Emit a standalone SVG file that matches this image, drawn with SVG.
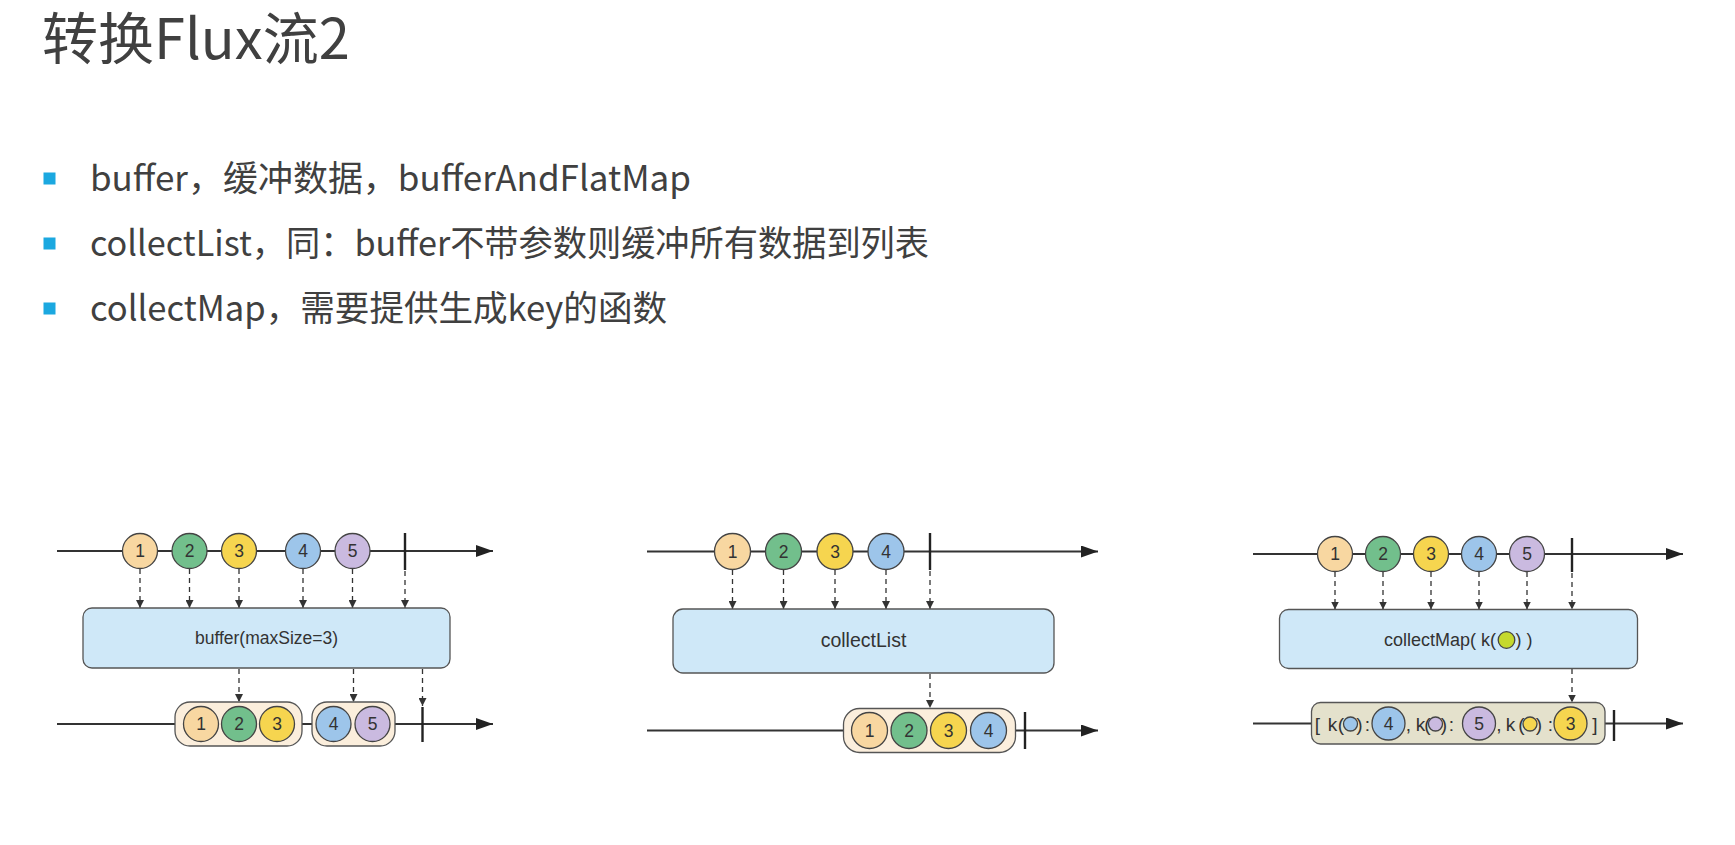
<svg xmlns="http://www.w3.org/2000/svg" width="1735" height="845" viewBox="0 0 1735 845">
<style>
.bg{fill:#ffffff}
.title{font-family:"Noto Sans CJK SC","Noto Sans",sans-serif;font-size:56px;fill:#404040}
.bul{font-family:"Noto Sans CJK SC","Noto Sans",sans-serif;font-size:35px;fill:#404040}
.sq{fill:#1ba8e0}
.tl{stroke:#333;stroke-width:1.8;fill:none}
.term{stroke:#222;stroke-width:2.4}
.dash{stroke:#333;stroke-width:1.3;stroke-dasharray:5 4;fill:none}
.op{fill:#cfe8f8;stroke:#555;stroke-width:1.3}
.grp{fill:#fbeedc;stroke:#555;stroke-width:1.3}
.mgrp{fill:#e4e1cc;stroke:#555;stroke-width:1.3}
.m{stroke:#444;stroke-width:1.3}
.c1{fill:#f8d7a1}.c2{fill:#72bf8c}.c3{fill:#f6d54f}.c4{fill:#9dc5ea}.c5{fill:#cabae0}.cg{fill:#c5d92d}
.num{font-family:"Liberation Sans",Arial,sans-serif;font-size:17.5px;fill:#333;text-anchor:middle}
.optx{font-family:"Liberation Sans",Arial,sans-serif;fill:#333}
.mt{font-family:"Liberation Sans",Arial,sans-serif;font-size:19px;fill:#333;text-anchor:middle}
</style>
<defs>
<marker id="ah" markerUnits="userSpaceOnUse" markerWidth="17" markerHeight="12" refX="17" refY="6" orient="auto"><path d="M0,0 L17,6 L0,12 z" fill="#222"/></marker>
<marker id="as" markerUnits="userSpaceOnUse" markerWidth="8" markerHeight="8" refX="8" refY="4" orient="auto"><path d="M0,0 L8,4 L0,8 z" fill="#333"/></marker>
</defs>
<rect class="bg" x="0" y="0" width="1735" height="845"/>

<g id="title"><text class="title" x="42" y="59">转换Flux流2</text></g>
<g id="bullets">
<rect class="sq" x="43.5" y="172.5" width="12" height="12"/>
<text class="bul" x="90" y="191" textLength="601" lengthAdjust="spacingAndGlyphs">buffer，缓冲数据，bufferAndFlatMap</text>
<rect class="sq" x="43.5" y="237.5" width="12" height="12"/>
<text class="bul" x="90" y="256" textLength="839" lengthAdjust="spacingAndGlyphs">collectList，同：buffer不带参数则缓冲所有数据到列表</text>
<rect class="sq" x="43.5" y="302.5" width="12" height="12"/>
<text class="bul" x="90" y="321" textLength="577" lengthAdjust="spacingAndGlyphs">collectMap，需要提供生成key的函数</text>
</g>

<!-- Diagram 1: buffer -->
<g id="d1-connectors">
<line class="tl" x1="57" y1="551" x2="493" y2="551" marker-end="url(#ah)"/>
<line class="tl" x1="57" y1="724" x2="493" y2="724" marker-end="url(#ah)"/>
<line class="dash" x1="140" y1="569" x2="140" y2="608" marker-end="url(#as)"/>
<line class="dash" x1="189.5" y1="569" x2="189.5" y2="608" marker-end="url(#as)"/>
<line class="dash" x1="239" y1="569" x2="239" y2="608" marker-end="url(#as)"/>
<line class="dash" x1="303" y1="569" x2="303" y2="608" marker-end="url(#as)"/>
<line class="dash" x1="352.5" y1="569" x2="352.5" y2="608" marker-end="url(#as)"/>
<line class="dash" x1="405" y1="571" x2="405" y2="608" marker-end="url(#as)"/>
<line class="dash" x1="239" y1="669" x2="239" y2="702" marker-end="url(#as)"/>
<line class="dash" x1="353.5" y1="669" x2="353.5" y2="702" marker-end="url(#as)"/>
<line class="dash" x1="422.5" y1="669" x2="422.5" y2="706" marker-end="url(#as)"/>
<line class="term" x1="405" y1="533" x2="405" y2="570"/>
<line class="term" x1="422.5" y1="707" x2="422.5" y2="742"/>
</g>
<g id="d1-m1"><circle class="m c1" cx="140" cy="551" r="17.5"/><text class="num" x="140" y="557">1</text></g>
<g id="d1-m2"><circle class="m c2" cx="189.5" cy="551" r="17.5"/><text class="num" x="189.5" y="557">2</text></g>
<g id="d1-m3"><circle class="m c3" cx="239" cy="551" r="17.5"/><text class="num" x="239" y="557">3</text></g>
<g id="d1-m4"><circle class="m c4" cx="303" cy="551" r="17.5"/><text class="num" x="303" y="557">4</text></g>
<g id="d1-m5"><circle class="m c5" cx="352.5" cy="551" r="17.5"/><text class="num" x="352.5" y="557">5</text></g>
<g id="d1-op"><rect class="op" x="83" y="608" width="367" height="60" rx="9"/><text class="optx" x="266.5" y="644" font-size="17.5" text-anchor="middle">buffer(maxSize=3)</text></g>
<g id="d1-out1">
<rect class="grp" x="175" y="702" width="127" height="44" rx="15"/>
<circle class="m c1" cx="201" cy="724" r="17.5"/><text class="num" x="201" y="730">1</text>
<circle class="m c2" cx="239" cy="724" r="17.5"/><text class="num" x="239" y="730">2</text>
<circle class="m c3" cx="277" cy="724" r="17.5"/><text class="num" x="277" y="730">3</text>
</g>
<g id="d1-out2">
<rect class="grp" x="312" y="702" width="83" height="44" rx="15"/>
<circle class="m c4" cx="333.5" cy="724" r="17.5"/><text class="num" x="333.5" y="730">4</text>
<circle class="m c5" cx="372.5" cy="724" r="17.5"/><text class="num" x="372.5" y="730">5</text>
</g>

<!-- Diagram 2: collectList -->
<g id="d2-connectors">
<line class="tl" x1="647" y1="551.5" x2="1098" y2="551.5" marker-end="url(#ah)"/>
<line class="tl" x1="647" y1="730.5" x2="1098" y2="730.5" marker-end="url(#ah)"/>
<line class="dash" x1="732.5" y1="570" x2="732.5" y2="609" marker-end="url(#as)"/>
<line class="dash" x1="783.5" y1="570" x2="783.5" y2="609" marker-end="url(#as)"/>
<line class="dash" x1="835" y1="570" x2="835" y2="609" marker-end="url(#as)"/>
<line class="dash" x1="886" y1="570" x2="886" y2="609" marker-end="url(#as)"/>
<line class="dash" x1="930" y1="571" x2="930" y2="609" marker-end="url(#as)"/>
<line class="dash" x1="930" y1="674" x2="930" y2="708" marker-end="url(#as)"/>
<line class="term" x1="930" y1="533" x2="930" y2="570"/>
<line class="term" x1="1025" y1="712" x2="1025" y2="749"/>
</g>
<g id="d2-m1"><circle class="m c1" cx="732.5" cy="551.5" r="18"/><text class="num" x="732.5" y="557.5">1</text></g>
<g id="d2-m2"><circle class="m c2" cx="783.5" cy="551.5" r="18"/><text class="num" x="783.5" y="557.5">2</text></g>
<g id="d2-m3"><circle class="m c3" cx="835" cy="551.5" r="18"/><text class="num" x="835" y="557.5">3</text></g>
<g id="d2-m4"><circle class="m c4" cx="886" cy="551.5" r="18"/><text class="num" x="886" y="557.5">4</text></g>
<g id="d2-op"><rect class="op" x="673" y="609" width="381" height="64" rx="10"/><text class="optx" x="863.5" y="647" font-size="19.5" text-anchor="middle">collectList</text></g>
<g id="d2-out">
<rect class="grp" x="843.5" y="708.5" width="172" height="44" rx="16"/>
<circle class="m c1" cx="869.5" cy="730.5" r="18"/><text class="num" x="869.5" y="736.5">1</text>
<circle class="m c2" cx="909" cy="730.5" r="18"/><text class="num" x="909" y="736.5">2</text>
<circle class="m c3" cx="948.5" cy="730.5" r="18"/><text class="num" x="948.5" y="736.5">3</text>
<circle class="m c4" cx="988.5" cy="730.5" r="18"/><text class="num" x="988.5" y="736.5">4</text>
</g>

<!-- Diagram 3: collectMap -->
<g id="d3-connectors">
<line class="tl" x1="1253" y1="554" x2="1683" y2="554" marker-end="url(#ah)"/>
<line class="tl" x1="1253" y1="723.5" x2="1683" y2="723.5" marker-end="url(#ah)"/>
<line class="dash" x1="1335" y1="572" x2="1335" y2="609.5" marker-end="url(#as)"/>
<line class="dash" x1="1383" y1="572" x2="1383" y2="609.5" marker-end="url(#as)"/>
<line class="dash" x1="1431" y1="572" x2="1431" y2="609.5" marker-end="url(#as)"/>
<line class="dash" x1="1479" y1="572" x2="1479" y2="609.5" marker-end="url(#as)"/>
<line class="dash" x1="1527" y1="572" x2="1527" y2="609.5" marker-end="url(#as)"/>
<line class="dash" x1="1572" y1="573" x2="1572" y2="609.5" marker-end="url(#as)"/>
<line class="dash" x1="1572" y1="669" x2="1572" y2="702.5" marker-end="url(#as)"/>
<line class="term" x1="1572" y1="538" x2="1572" y2="572"/>
<line class="term" x1="1614" y1="710" x2="1614" y2="741"/>
</g>
<g id="d3-m1"><circle class="m c1" cx="1335" cy="554" r="17.5"/><text class="num" x="1335" y="560">1</text></g>
<g id="d3-m2"><circle class="m c2" cx="1383" cy="554" r="17.5"/><text class="num" x="1383" y="560">2</text></g>
<g id="d3-m3"><circle class="m c3" cx="1431" cy="554" r="17.5"/><text class="num" x="1431" y="560">3</text></g>
<g id="d3-m4"><circle class="m c4" cx="1479" cy="554" r="17.5"/><text class="num" x="1479" y="560">4</text></g>
<g id="d3-m5"><circle class="m c5" cx="1527" cy="554" r="17.5"/><text class="num" x="1527" y="560">5</text></g>
<g id="d3-op">
<rect class="op" x="1279.5" y="609.5" width="358" height="59" rx="9"/>
<text class="optx" x="1384" y="646" font-size="18">collectMap( k(</text>
<circle class="m cg" cx="1506.5" cy="640" r="8.3" stroke-width="1.2"/>
<text class="optx" x="1515.5" y="646" font-size="18"> ) )</text>
</g>
<g id="d3-out">
<rect class="mgrp" x="1311.5" y="702.5" width="293.5" height="41.5" rx="9"/>
<text class="mt" y="730.5"><tspan x="1317.5">[</tspan><tspan x="1332.5">k</tspan><tspan x="1341">(</tspan><tspan x="1359.5">)</tspan><tspan x="1367.5">:</tspan><tspan x="1408.5">,</tspan><tspan x="1420.5">k</tspan><tspan x="1427.5">(</tspan><tspan x="1444">)</tspan><tspan x="1451.5">:</tspan><tspan x="1499">,</tspan><tspan x="1510.5">k</tspan><tspan x="1521.5">(</tspan><tspan x="1539">)</tspan><tspan x="1550.5">:</tspan><tspan x="1595">]</tspan></text>
<circle class="m c4" cx="1350.5" cy="724" r="7" stroke-width="1"/>
<circle class="m c5" cx="1435.5" cy="724" r="7" stroke-width="1"/>
<circle class="m c3" cx="1530" cy="724" r="7" stroke-width="1"/>
<circle class="m c4" cx="1388.5" cy="723.5" r="16.5"/><text class="num" x="1388.5" y="729.5">4</text>
<circle class="m c5" cx="1479" cy="723.5" r="16.5"/><text class="num" x="1479" y="729.5">5</text>
<circle class="m c3" cx="1570.5" cy="723.5" r="16.5"/><text class="num" x="1570.5" y="729.5">3</text>
</g>
</svg>
